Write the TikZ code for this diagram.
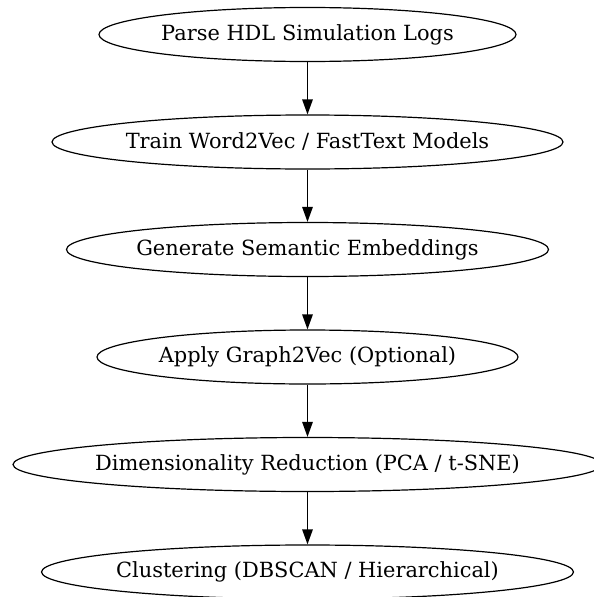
\documentclass[tikz,border=0pt]{standalone}
\usepackage{fontspec}
\setmainfont{DejaVu Serif}
\usepackage{tikz}
\usetikzlibrary{arrows.meta,shapes.geometric}

\begin{document}
\begin{tikzpicture}[
  x=1pt, y=1pt,
  >={Triangle[length=15pt,width=10.5pt]},
  stage/.style={draw, ellipse, line width=1.2pt, inner ysep=0pt, inner xsep=-5pt,
    minimum height=54pt, font=\fontsize{20.9}{25}\selectfont},
  flow/.style={->, line width=1.4pt}
]

\useasboundingbox (0, 0) rectangle (594, -597);

% Pipeline stages (top to bottom)
\node[stage, minimum width=417pt] (parse) at (307.5, -34.5) {Parse HDL Simulation Logs};
\node[stage, minimum width=511pt] (train) at (307.5, -142) {Train Word2Vec / FastText Models};
\node[stage, minimum width=482pt] (embed) at (307.5, -249.5) {Generate Semantic Embeddings};
\node[stage, minimum width=421pt] (graphvec) at (307.5, -357) {Apply Graph2Vec (Optional)};
\node[stage, minimum width=589pt] (reduce) at (307.5, -464.5) {Dimensionality Reduction (PCA / t-SNE)};
\node[stage, minimum width=532pt] (cluster) at (307.5, -572) {Clustering (DBSCAN / Hierarchical)};

% Connectors
\draw[flow] (parse) -- (train);
\draw[flow] (train) -- (embed);
\draw[flow] (embed) -- (graphvec);
\draw[flow] (graphvec) -- (reduce);
\draw[flow] (reduce) -- (cluster);

\end{tikzpicture}
\end{document}
